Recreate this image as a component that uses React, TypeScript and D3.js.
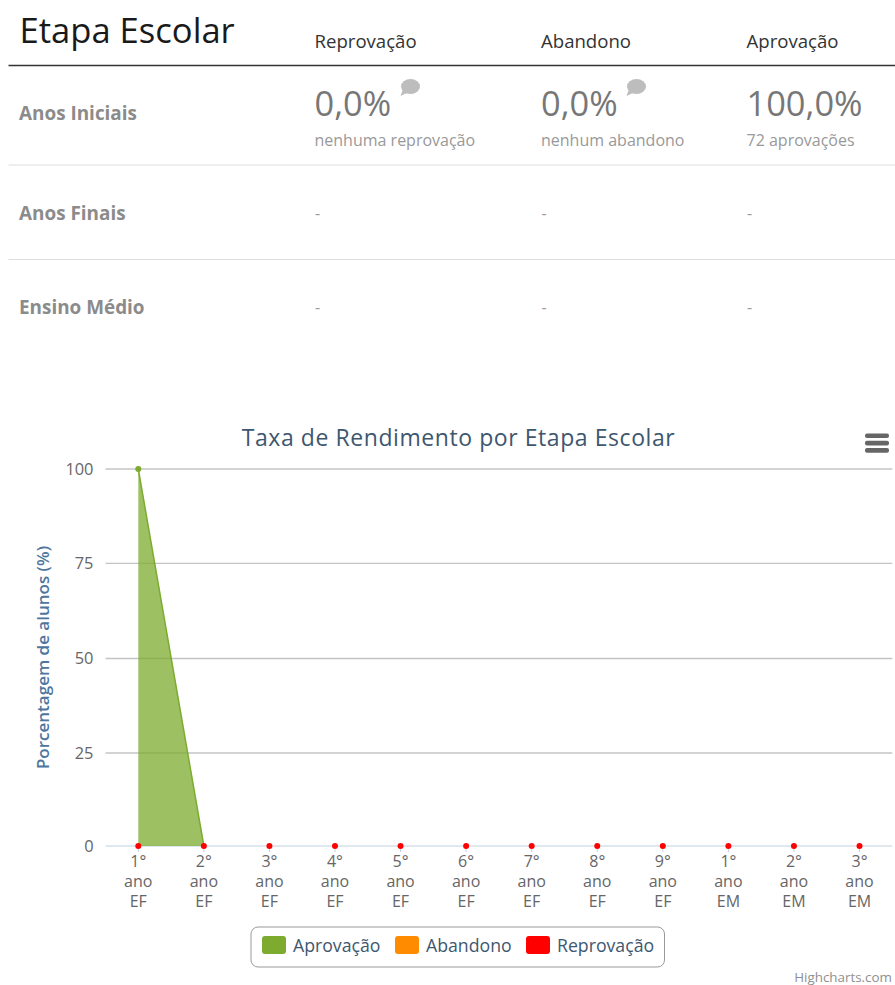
import React from "react";
import * as d3 from "d3";

const categories = [
  ["1°", "ano", "EF"], ["2°", "ano", "EF"], ["3°", "ano", "EF"], ["4°", "ano", "EF"],
  ["5°", "ano", "EF"], ["6°", "ano", "EF"], ["7°", "ano", "EF"], ["8°", "ano", "EF"],
  ["9°", "ano", "EF"], ["1°", "ano", "EM"], ["2°", "ano", "EM"], ["3°", "ano", "EM"],
];
const aprovacao = [100, 0, 0, 0, 0, 0, 0, 0, 0, 0, 0, 0];
const abandono = [0, 0, 0, 0, 0, 0, 0, 0, 0, 0, 0, 0];
const reprovacao = [0, 0, 0, 0, 0, 0, 0, 0, 0, 0, 0, 0];
const yTicks = [0, 25, 50, 75, 100];
const tableColumns = ["Reprovação", "Abandono", "Aprovação"];
const tableRows = ["Anos Iniciais", "Anos Finais", "Ensino Médio"];
const firstRowValues = ["0,0%", "0,0%", "100,0%"];
const firstRowNotes = ["nenhuma reprovação", "nenhum abandono", "72 aprovações"];
const legendItems = ["Aprovação", "Abandono", "Reprovação"];

const GREEN = "#7cab2f";
const ORANGE = "#ff8c00";
const RED = "#ff0000";
const FONT = "'Open Sans', sans-serif";
const colX = [314.5, 541, 746.5];
const rowDividers = [165, 259.5];
const rowLabelY = [120, 220, 314];
const dashY = [218.5, 312.5];

const x = d3.scaleBand<number>().domain(d3.range(12)).range([105.5, 892.3]);
const cx = (i: number) => (x(i) as number) + x.bandwidth() / 2;
const y = d3.scaleLinear().domain([0, 25, 50, 75, 100]).range([846, 753, 658.5, 563.3, 469]);

const isDrawn = (d: number, i: number, arr: ArrayLike<number>) => d > 0 || (i > 0 && arr[i - 1] > 0);

const area = d3
  .area<number>()
  .defined(isDrawn)
  .x((_, i) => cx(i))
  .y0(y(0))
  .y1((d) => y(d));
const line = d3
  .line<number>()
  .defined(isDrawn)
  .x((_, i) => cx(i))
  .y((d) => y(d));

function Bubble({ x: bx, y: by }: { x: number; y: number }) {
  return (
    <g transform={`translate(${bx},${by})`} fill="#bdbdbd">
      <ellipse cx={10.5} cy={7.5} rx={9.5} ry={7.5} />
      <path d="M3,10 L0.5,17 L9,13 Z" />
    </g>
  );
}

export default function App() {
  return (
    <svg
      width={895}
      height={985}
      viewBox="0 0 895 985"
      style={{ position: "fixed", left: 0, top: 0, background: "#fff", fontFamily: FONT }}
    >
      {/* table */}
      <text x={19.5} y={42.5} fontSize={34.6} fill="#1a1a1a">Etapa Escolar</text>
      {tableColumns.map((c, i) => (
        <text key={c} x={colX[i]} y={47.5} fontSize={18.6} fill="#333">{c}</text>
      ))}
      <line x1={8.5} x2={895} y1={65.5} y2={65.5} stroke="#333" strokeWidth={1.5} />
      {rowDividers.map((d) => (
        <line key={d} x1={8.5} x2={895} y1={d} y2={d} stroke="#dedede" strokeWidth={1} />
      ))}
      {tableRows.map((r, i) => (
        <text key={r} x={19} y={rowLabelY[i]} fontSize={18.9} fontWeight={700} fill="#8b8b8b">{r}</text>
      ))}
      {firstRowValues.map((v, i) => (
        <text key={i} x={colX[i]} y={115.5} fontSize={34.4} fill="#777">{v}</text>
      ))}
      {firstRowNotes.map((v, i) => (
        <text key={i} x={colX[i]} y={146} fontSize={16} fill="#999">{v}</text>
      ))}
      <Bubble x={400} y={79} />
      <Bubble x={626} y={79} />
      {dashY.map((dy) =>
        colX.map((cxx) => (
          <text key={`${dy}-${cxx}`} x={cxx + 0.5} y={dy} fontSize={16} fill="#999">-</text>
        ))
      )}

      {/* chart */}
      <text x={458.5} y={446} textAnchor="middle" fontSize={23} fill="#3e576f" letterSpacing={0.57}>
        Taxa de Rendimento por Etapa Escolar
      </text>
      {[0, 7.3, 14.6].map((o) => (
        <rect key={o} x={865} y={433.5 + o} width={24} height={4.6} rx={2} fill="#666" />
      ))}

      {yTicks.filter((t) => t > 0).map((t) => (
        <line key={t} x1={105.5} x2={892.3} y1={y(t)} y2={y(t)} stroke="#c4c4c4" strokeWidth={1.3} />
      ))}
      {yTicks.map((t) => (
        <text key={t} x={93.5} y={y(t) + 5.5} textAnchor="end" fontSize={16.4} fill="#666">{t}</text>
      ))}
      <text
        transform="translate(48.5,657.5) rotate(-90)"
        textAnchor="middle"
        fontSize={17}
        fontWeight={600}
        fill="#4d759e"
      >
        Porcentagem de alunos (%)
      </text>

      {/* x axis */}
      <line x1={105.5} x2={892.3} y1={846} y2={846} stroke="#c0d0e0" strokeWidth={1.2} />
      {categories.map((_, i) => (
        <line key={i} x1={cx(i)} x2={cx(i)} y1={846} y2={852} stroke="#c0d0e0" strokeWidth={1} />
      ))}
      {categories.map((lines, i) => (
        <text key={i} textAnchor="middle" fontSize={16} fill="#666">
          {lines.map((l, j) => (
            <tspan key={j} x={cx(i)} y={866.5 + j * 20}>{l}</tspan>
          ))}
        </text>
      ))}

      {/* series */}
      <path d={area(aprovacao) ?? ""} fill={GREEN} fillOpacity={0.75} />
      <path d={line(aprovacao) ?? ""} fill="none" stroke={GREEN} strokeWidth={1.5} />
      <path d={line(abandono) ?? ""} fill="none" stroke={ORANGE} strokeWidth={1} />
      {aprovacao.map((v, i) =>
        v > 0 ? <circle key={i} cx={cx(i)} cy={y(v)} r={3} fill={GREEN} /> : null
      )}
      {reprovacao.map((v, i) => (
        <circle key={i} cx={cx(i)} cy={y(v)} r={3} fill={RED} />
      ))}

      {/* legend */}
      <rect x={251} y={927} width={413.5} height={40} rx={7} fill="#fff" stroke="#999" strokeWidth={1} />
      {legendItems.map((l, i) => {
        const lx = [262, 395, 526][i];
        return (
          <g key={l}>
            <rect x={lx} y={936} width={24} height={18} rx={3} fill={[GREEN, ORANGE, RED][i]} />
            <text x={lx + 31} y={952} fontSize={17.7} fill="#3e576f">{l}</text>
          </g>
        );
      })}
      <text x={892} y={982} textAnchor="end" fontSize={13.4} fill="#909090">Highcharts.com</text>
    </svg>
  );
}
